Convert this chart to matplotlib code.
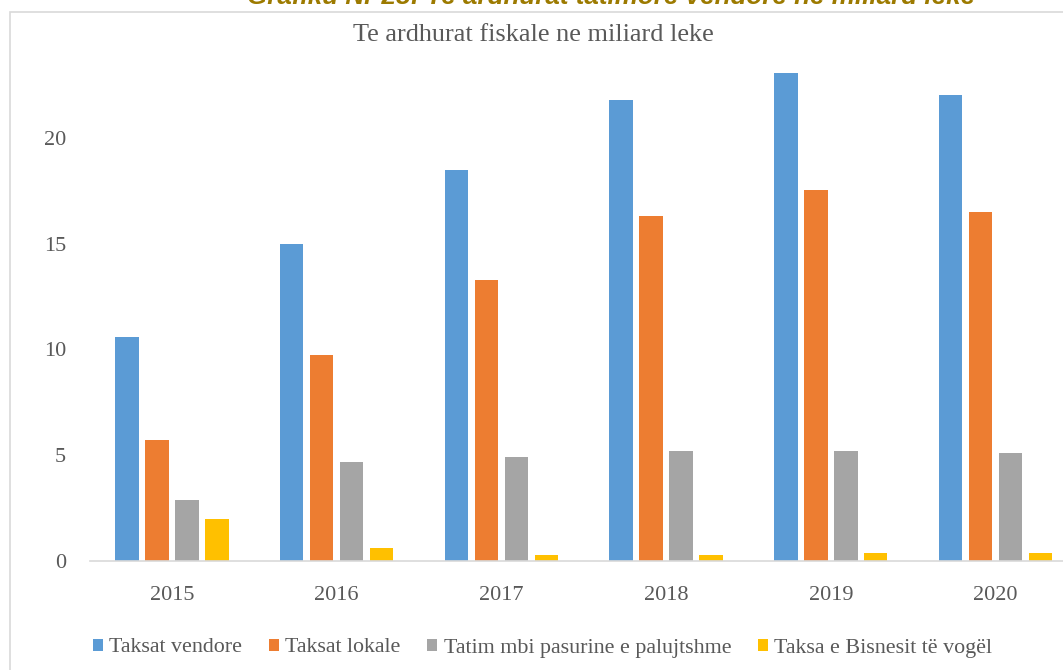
import matplotlib
matplotlib.use("Agg")
import matplotlib.pyplot as plt
import numpy as np
from matplotlib.patches import Rectangle

years = ["2015", "2016", "2017", "2018", "2019", "2020"]
series_names = ["Taksat vendore", "Taksat lokale",
                "Tatim mbi pasurine e palujtshme", "Taksa e Bisnesit të vogël"]
taksat_vendore = [10.6, 15.0, 18.5, 21.8, 23.05, 22.0]
taksat_lokale = [5.7, 9.75, 13.3, 16.3, 17.55, 16.5]
tatim_pasurine = [2.9, 4.7, 4.9, 5.2, 5.2, 5.1]
taksa_biznes = [2.0, 0.6, 0.28, 0.28, 0.38, 0.38]
colors = ["#5B9BD5", "#ED7D31", "#A5A5A5", "#FFC000"]
yticks = [0, 5, 10, 15, 20]

W, H = 1063, 670
fig = plt.figure(figsize=(W / 100, H / 100), dpi=100)

# outer frame (cropped chart area border)
fig.patches.append(Rectangle((10 / W, -0.1), 1.2, (H - 12) / H + 0.1, transform=fig.transFigure,
                             fill=False, edgecolor="#D9D9D9", linewidth=1.2, zorder=0))

# cropped document caption at very top
fig.text(611 / W, 1 - 4 / H, "Grafiku Nr 28: Te ardhurat tatimore vendore ne miliard leke",
         ha="center", va="baseline", fontsize=18.7, fontweight="bold", fontstyle="italic",
         color="#9C7A00", family="Liberation Sans")

left, right = 89.6, 1077.9
bottom, top = 561, 32
ax = fig.add_axes([left / W, 1 - bottom / H, (right - left) / W, (bottom - top) / H])

data = [taksat_vendore, taksat_lokale, tatim_pasurine, taksa_biznes]
x = np.arange(len(years))
pitch = 30 / 165
width = 23.5 / 165
for i, (vals, c, name) in enumerate(zip(data, colors, series_names)):
    ax.bar(x + (i - 1.5) * pitch, vals, width=width, color=c, label=name, zorder=2)

ax.set_xlim(-0.5, len(years) - 0.5)
ax.set_ylim(0, 25)
ax.set_yticks(yticks)
ax.set_xticks(x)
ax.set_xticklabels(years)
for s in ["top", "right", "left"]:
    ax.spines[s].set_visible(False)
ax.spines["bottom"].set_color("#D9D9D9")
ax.spines["bottom"].set_linewidth(1.2)
ax.tick_params(axis="both", length=0, labelsize=16, labelcolor="#595959")
ax.tick_params(axis="y", pad=17)
ax.tick_params(axis="x", pad=18)
for lab in ax.get_xticklabels() + ax.get_yticklabels():
    lab.set_family("Liberation Serif")

fig.text(533 / W, 1 - 35 / H, "Te ardhurat fiskale ne miliard leke", ha="center", va="center",
         fontsize=18.9, color="#595959", family="Liberation Serif")

leg = fig.legend(loc="center left", bbox_to_anchor=(92.7 / W, 1 - 648 / H), ncol=4, frameon=False,
                 prop={"family": "Liberation Serif", "size": 15.8}, handlelength=0.46,
                 handleheight=0.46, handletextpad=0.3, columnspacing=1.2,
                 borderpad=0, borderaxespad=0)
for t in leg.get_texts():
    t.set_color("#595959")

fig.savefig("out.png", dpi=100)
